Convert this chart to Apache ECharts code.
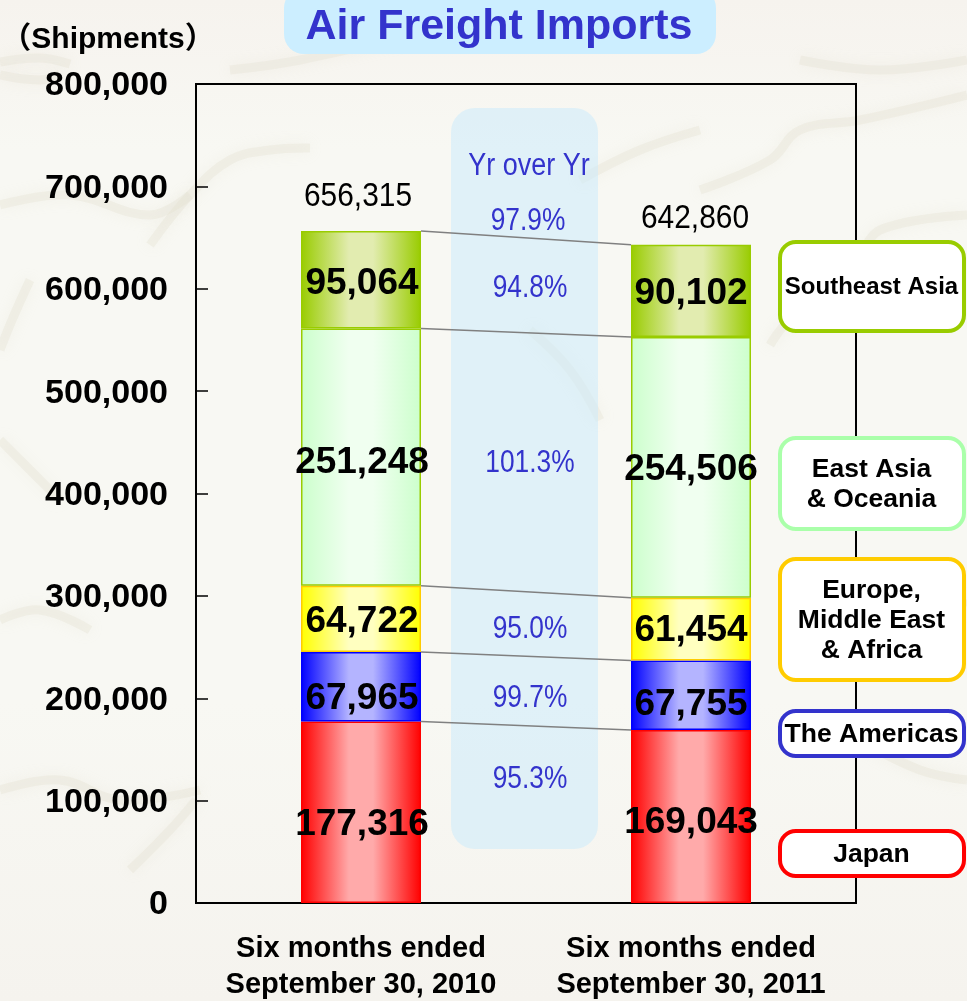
<!DOCTYPE html>
<html><head><meta charset="utf-8">
<style>html,body{margin:0;padding:0;background:#f7f6f1}#c{width:967px;height:1001px}</style>
<script src="https://cdn.jsdelivr.net/npm/echarts@6/dist/echarts.min.js"></script>
</head><body><div id="c"></div>
<script>
const categories = ['Six months ended\nSeptember 30, 2010', 'Six months ended\nSeptember 30, 2011'];
const regions = ['Japan', 'The Americas', 'Europe, Middle East & Africa', 'East Asia & Oceania', 'Southeast Asia'];
const japan = [177316, 169043];
const americas = [67965, 67755];
const emea = [64722, 61454];
const eastAsia = [251248, 254506];
const southeastAsia = [95064, 90102];
const totals = [656315, 642860];
const yoyLabels = ['97.9%', '94.8%', '101.3%', '95.0%', '99.7%', '95.3%'];
const yoyHeader = 'Yr over Yr';
const yTicks = { min: 0, max: 800000, interval: 100000 };

const SANS = '"Liberation Sans", Arial, sans-serif';
const BAR_W = 120;
const grid = { left: 196, right: 111, top: 84, bottom: 98, outerBoundsMode: 'none' };

function grad(edge, mid) {
  return { type: 'linear', x: 0, y: 0, x2: 1, y2: 0, colorStops: [
    { offset: 0, color: edge }, { offset: 0.4, color: mid }, { offset: 0.6, color: mid }, { offset: 1, color: edge } ] };
}
const seriesDefs = [
  { name: regions[0], data: japan, fill: grad('#ff0000', '#ffaaaa'), border: '#ff0000', dy: [13, 6] },
  { name: regions[1], data: americas, fill: grad('#0000ff', '#b4b4ff'), border: '#0000ff', dy: [12, 10] },
  { name: regions[2], data: emea, fill: grad('#ffff00', '#ffffc0'), border: '#ffcc00', dy: [3, 2] },
  { name: regions[3], data: eastAsia, fill: grad('#ccffcc', '#f0fff0'), border: '#99cc00', dy: [6, 2] },
  { name: regions[4], data: southeastAsia, fill: grad('#99cc00', '#e2ecb0'), border: '#99cc00', dy: [4, 3] }
];
const barSeries = seriesDefs.map(d => ({
  name: d.name, type: 'bar', stack: 'all', barWidth: BAR_W, z: 2,
  itemStyle: { color: d.fill, borderColor: d.border, borderWidth: 1.5 },
  data: d.data.map((v, i) => ({
    value: v,
    label: { show: true, position: 'inside', offset: [i === 0 ? 1 : 0, d.dy[i]],
      formatter: p => p.value.toLocaleString('en-US'),
      color: '#000', fontFamily: SANS, fontWeight: 'bold', fontSize: 37 }
  }))
}));

let c0 = 0, c1 = 0;
const boundaries = seriesDefs.map(d => { c0 += d.data[0]; c1 += d.data[1]; return [0, c0, c1]; });

const connectors = {
  type: 'custom', z: 3, silent: true, clip: false, data: boundaries,
  encode: { x: 0, y: 1 },
  renderItem(params, api) {
    const a = api.coord([0, api.value(1)]);
    const b = api.coord([1, api.value(2)]);
    return { type: 'line', shape: { x1: a[0] + BAR_W / 2, y1: a[1], x2: b[0] - BAR_W / 2, y2: b[1] },
      style: { stroke: '#808080', lineWidth: 1.5 } };
  }
};
const totalShift = [[-3, -34], [4, -26]];
const totalLabels = {
  type: 'custom', z: 4, silent: true, clip: false,
  data: totals.map((v, i) => [i, v]), encode: { x: 0, y: 1 },
  renderItem(params, api) {
    const p = api.coord([api.value(0), api.value(1)]);
    const s = totalShift[params.dataIndex];
    return { type: 'text', x: p[0] + s[0], y: p[1] + s[1], scaleX: 0.88,
      style: { text: api.value(1).toLocaleString('en-US'), x: 0, y: 0, align: 'center', verticalAlign: 'middle',
      font: '34px ' + SANS, fill: '#000' } };
  }
};

const mapStrokes = [
  [[0,62],[40,58],[70,64]], [[0,75],[40,80],[60,74]],
  [[150,245],[190,195],[230,160],[270,150],[310,148]], [[0,205],[70,195],[150,215],[190,195]],
  [[0,350],[12,320],[30,280]], [[0,620],[40,610],[90,630]],
  [[0,790],[60,780],[120,800],[200,790]], [[130,870],[170,830],[196,800]],
  [[700,190],[770,160],[800,130],[860,120],[967,95]], [[860,260],[880,230],[967,215]],
  [[770,345],[790,320],[830,300]], [[430,30],[300,60],[230,70]],
  [[530,330],[570,370],[600,420]], [[580,180],[640,150],[700,130]],
  [[860,740],[920,770],[967,780]], [[800,60],[880,70],[967,60]],
  [[856,620],[900,640],[967,600]], [[0,440],[30,470],[60,500]]
];
const bgEls = mapStrokes.map(pts => ({
  type: 'polyline', z: -5, silent: true, shape: { points: pts, smooth: 0.4 },
  style: { stroke: 'rgba(226,223,204,0.3)', fill: null, lineWidth: 9, shadowBlur: 14, shadowColor: 'rgba(215,212,188,0.5)' }
}));

function text(t, x, y, font, fill) {
  return { type: 'text', z: 10, silent: true, style: { text: t, x, y, align: 'center', verticalAlign: 'middle', font, fill } };
}
function narrow(t, x, y, font, fill, sx) {
  return { type: 'text', z: 10, silent: true, x, y, scaleX: sx, style: { text: t, x: 0, y: 0, align: 'center', verticalAlign: 'middle', font, fill } };
}
const yoyY = [221, 288, 463, 629, 698, 779];
const yoyX = [528, 530, 530, 530, 530, 530];
const legendBoxes = [
  { label: 'Southeast Asia', y: 242, h: 89, c: '#99cc00', fs: 24 },
  { label: 'East Asia\n& Oceania', y: 438, h: 91, c: '#aaffaa', fs: 26.5 },
  { label: 'Europe,\nMiddle East\n& Africa', y: 559, h: 121, c: '#ffcc00', fs: 26.5 },
  { label: 'The Americas', y: 711, h: 45, c: '#3333cc', fs: 26.5 },
  { label: 'Japan', y: 831, h: 45, c: '#ff0000', fs: 26.5 }
];
const graphicEls = [
  ...bgEls,
  { type: 'rect', z: -1, silent: true, shape: { x: 451, y: 108, width: 147, height: 741, r: 24 }, style: { fill: 'rgba(204,235,252,0.55)' } },
  { type: 'rect', z: 5, silent: true, shape: { x: 284, y: -12, width: 432, height: 66, r: 20 }, style: { fill: '#cceeff' } },
  text('Air Freight Imports', 499, 27, 'bold 43px ' + SANS, '#3333cc'),
  text('\uFF08Shipments\uFF09', 108, 40, 'bold 30px ' + SANS + ', "Noto Sans CJK JP"', '#000'),
  narrow(yoyHeader, 529, 166, '31px ' + SANS, '#3333cc', 0.87),
  ...yoyLabels.map((t, i) => narrow(t, yoyX[i], yoyY[i], '31px ' + SANS, '#3333cc', 0.85)),
  ...legendBoxes.flatMap(b => [
    { type: 'rect', z: 8, silent: true, shape: { x: 780, y: b.y, width: 184, height: b.h, r: 16 },
      style: { fill: '#fff', stroke: b.c, lineWidth: 4 } },
    { type: 'text', z: 10, silent: true, style: { text: b.label, x: 871.5, y: b.y + b.h / 2 + 1, align: 'center', verticalAlign: 'middle',
      font: 'bold ' + b.fs + 'px ' + SANS, fill: '#000', lineHeight: 30 } }
  ])
];

const chart = echarts.init(document.getElementById('c'), null, { renderer: 'canvas', width: 967, height: 1001 });
chart.setOption({
  animation: false,
  backgroundColor: { type: 'linear', x: 0, y: 0, x2: 0, y2: 1, colorStops: [
    { offset: 0, color: '#f6f3ee' }, { offset: 0.15, color: '#f8f8f3' }, { offset: 0.7, color: '#f8f8f3' }, { offset: 1, color: '#f5f3ee' } ] },
  grid: { ...grid, show: true, borderColor: '#000', borderWidth: 2, backgroundColor: 'transparent' },
  xAxis: { type: 'category', data: categories,
    axisLine: { lineStyle: { color: '#000', width: 2 } },
    axisTick: { inside: true, length: 12, lineStyle: { color: '#000', width: 1.5 } },
    axisLabel: { interval: 0, hideOverlap: false, margin: 28, color: '#000', fontFamily: SANS, fontWeight: 'bold', fontSize: 29, lineHeight: 36 } },
  yAxis: { type: 'value', ...yTicks,
    splitLine: { show: false },
    axisLine: { show: true, lineStyle: { color: '#000', width: 2 } },
    axisTick: { show: true, inside: true, length: 12, lineStyle: { color: '#000', width: 1.5 } },
    axisLabel: { margin: 28, verticalAlign: 'top', lineHeight: 4, color: '#000', fontFamily: SANS, fontWeight: 'bold', fontSize: 34,
      formatter: v => v.toLocaleString('en-US') } },
  graphic: { elements: graphicEls },
  series: [...barSeries, connectors, totalLabels]
});
</script></body></html>
